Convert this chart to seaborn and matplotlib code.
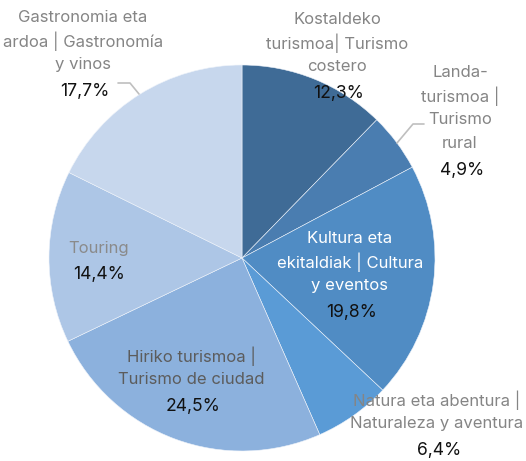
import matplotlib
matplotlib.use("Agg")
import matplotlib.pyplot as plt
import seaborn as sns
import numpy as np

sns.set_theme(style="white")
plt.rcParams['font.family'] = ['Inter', 'DejaVu Sans']

categories = [
    "Kostaldeko\nturismoa| Turismo\ncostero",
    "Landa-\nturismoa |\nTurismo\nrural",
    "Kultura eta\nekitaldiak | Cultura\ny eventos",
    "Natura eta abentura |\nNaturaleza y aventura",
    "Hiriko turismoa |\nTurismo de ciudad",
    "Touring",
    "Gastronomia eta\nardoa | Gastronomía\ny vinos",
]
values = [12.3, 4.9, 19.8, 6.4, 24.5, 14.4, 17.7]
pct_labels = ["12,3%", "4,9%", "19,8%", "6,4%", "24,5%", "14,4%", "17,7%"]
colors = ["#3f6b96", "#4a7db0", "#508cc4", "#5a9bd6", "#8cb1dd", "#adc6e6", "#c7d7ed"]
label_colors = ["#858585", "#858585", "white", "#858585", "#5c5c5c", "#8a8a8a", "#858585"]

W, H = 526, 461
fig = plt.figure(figsize=(W / 100, H / 100), dpi=100)
cx, cy, R = 242, 258, 193
ax = fig.add_axes([(cx - R) / W, (H - cy - R) / H, 2 * R / W, 2 * R / H])

ax.pie(values, colors=colors, startangle=90, counterclock=False, radius=1,
       wedgeprops=dict(edgecolor="#eef3fa", linewidth=0.4))
ax.set_xlim(-1, 1)
ax.set_ylim(-1, 1)
ax.set_aspect("equal")
ax.axis("off")

def d(px, py):
    return ((px - cx) / R, (cy - py) / R)

# label anchor (center of text block top line) in pixel coords
label_pos = [(337, 19), (460, 72), (350, 238), (437, 400), (191, 356), (99, 248), (83, 17)]
line_h = 23.8
fs = 12
for cat, pct, (px, py), lc in zip(categories, pct_labels, label_pos, label_colors):
    lines = cat.split("\n")
    for i, ln in enumerate(lines):
        x, y = d(px, py + i * line_h)
        ax.text(x, y, ln, ha="center", va="center", fontsize=fs, color=lc)
    x, y = d(px + (2 if len(lines) > 1 else 0), py + len(lines) * line_h + 3)
    ax.text(x, y, pct, ha="center", va="center", fontsize=fs + 0.6, color="#111111")

# leader lines
for pts in [[(397, 143), (413, 124), (424, 124)], [(118, 83), (130, 83), (139, 94)]]:
    xs, ys = zip(*[d(*p) for p in pts])
    ax.plot(xs, ys, color="#bfbfbf", linewidth=1.2, clip_on=False)

fig.savefig("out.png", dpi=100)
